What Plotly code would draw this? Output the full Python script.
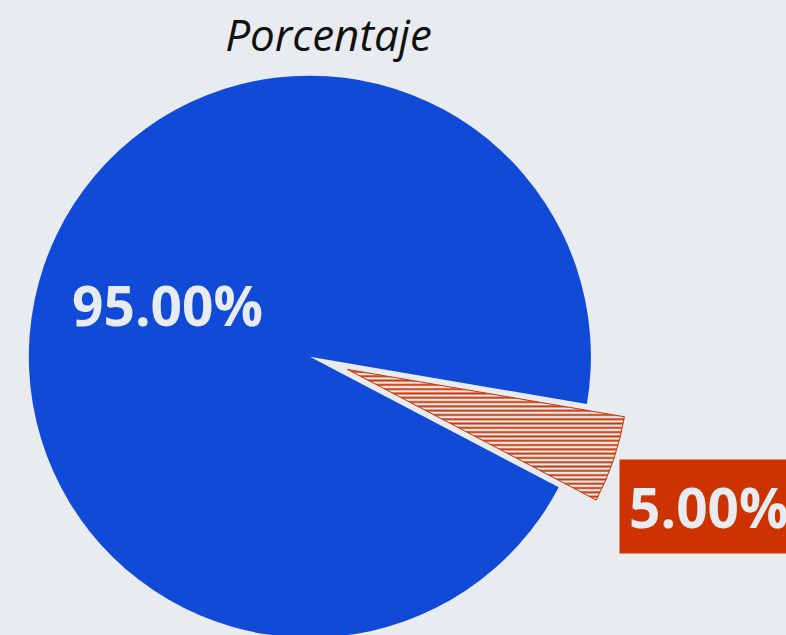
import plotly.graph_objects as go

labels = ["Otros", "Seleccionado"]
values = [95, 5]
colors = ["#104ad6", "#cc3300"]
pulls = [0.07, 0.071]
title_text = "Porcentaje"

BG = "#e8ecf0"
total = sum(values)
pct_text = [f"{v / total:.2%}" for v in values]

fig = go.Figure(go.Pie(
    labels=labels,
    values=values,
    sort=False,
    direction="clockwise",
    rotation=117.7,
    pull=pulls,
    textinfo="none",
    marker=dict(
        colors=colors,
        line=dict(color=[colors[0], colors[1]], width=[0, 1]),
        pattern=dict(shape=["", "-"], fgcolor=colors[1], bgcolor=BG,
                     size=4.3, solidity=0.45, fillmode="replace"),
    ),
    hoverinfo="label+percent",
))

label_font = dict(family="Open Sans", size=55, color=BG, weight="bold")

# label of the large slice (inside)
fig.add_annotation(
    text=pct_text[0],
    xref="paper", yref="paper", x=0.2542, y=0.598,
    xanchor="center", yanchor="middle", showarrow=False,
    font=label_font,
)
# label of the small slice (outside, boxed)
fig.add_annotation(
    text=pct_text[1],
    xref="paper", yref="paper", x=0.942, y=0.2613,
    xanchor="left", yanchor="middle", showarrow=False,
    font=label_font,
    bgcolor=colors[1], borderpad=9,
)

fig.update_layout(
    width=786, height=665,
    margin=dict(l=0, r=129, t=62, b=1),
    paper_bgcolor=BG, plot_bgcolor=BG,
    showlegend=False,
    title=dict(text=title_text, x=0.5, xref="paper", xanchor="center",
               y=1 - 36 / 665, yref="container", yanchor="middle",
               font=dict(family="Open Sans", size=44, color="#111111", style="italic")),
)

fig.write_html(
    "out.html",
    config={"displayModeBar": False},
    post_script="document.body.style.margin='0';document.body.style.overflow='hidden';document.body.style.background='#e8ecf0';",
)
